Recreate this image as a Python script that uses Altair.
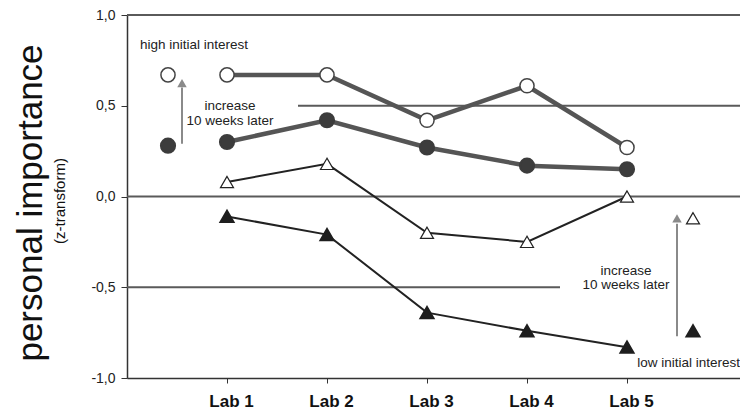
import altair as alt
import pandas as pd

# ---- data ----
labs = [1, 2, 3, 4, 5]
lab_names = ["Lab 1", "Lab 2", "Lab 3", "Lab 4", "Lab 5"]
high_later = [0.67, 0.67, 0.42, 0.61, 0.27]
high_initial = [0.30, 0.42, 0.27, 0.17, 0.15]
low_later = [0.08, 0.18, -0.20, -0.25, 0.00]
low_initial = [-0.11, -0.21, -0.64, -0.74, -0.83]

# legend-like key markers
key_x = [0.41, 0.41, 5.66, 5.66]
key_y = [0.67, 0.28, -0.12, -0.74]
key_series = ["high_later", "high_initial", "low_later", "low_initial"]

# arrows
arrow_x = [0.55, 5.50]
arrow_y0 = [0.29, -0.77]
arrow_y1 = [0.60, -0.15]
arrow_tip = [0.625, -0.12]

# reference lines
ref_y = [1.0, 0.5, 0.0, -0.5]
ref_x0 = [0.0, 1.71, 0.0, 0.0]
ref_x1 = [6.13, 6.13, 6.13, 4.33]

# annotations
ann_text = ["high initial interest", "increase\n10 weeks later",
            "increase\n10 weeks later", "low initial interest"]
ann_x = [0.13, 1.03, 4.99, 6.13]
ann_y = [0.833, 0.497, -0.41, -0.915]
ann_align = ["left", "center", "center", "right"]

FONT = "Liberation Sans"
XDOM = [0, 6.13]
YDOM = [-1.0, 1.0]

rows = []
for name, vals in [("high_later", high_later), ("high_initial", high_initial),
                   ("low_later", low_later), ("low_initial", low_initial)]:
    for x, v in zip(labs, vals):
        rows.append({"series": name, "x": x, "y": v})
df = pd.DataFrame(rows)
keys = pd.DataFrame({"series": key_series, "x": key_x, "y": key_y})
pts = pd.concat([df, keys], ignore_index=True)

xscale = alt.Scale(domain=XDOM, nice=False, zero=False)
yscale = alt.Scale(domain=YDOM, nice=False, zero=False)

xenc = alt.X("x:Q", scale=xscale,
             axis=alt.Axis(values=labs, labelExpr="'Lab ' + datum.value",
                           title=None, grid=False, labelFont=FONT, labelFontSize=17,
                           labelFontWeight="bold", labelColor="#111", labelPadding=10,
                           labelOffset=4, tickSize=5, tickColor="#333",
                           domainColor="#333", domainWidth=1.5))
yenc = alt.Y("y:Q", scale=yscale,
             axis=alt.Axis(values=[-1.0, -0.5, 0.0, 0.5, 1.0],
                           labelExpr="(datum.value < 0 ? '-' : '') + replace(format(abs(datum.value), '.1f'), '.', ',')",
                           title=None, grid=False, labelFont=FONT, labelFontSize=14,
                           labelColor="#222", labelPadding=6, tickSize=6,
                           tickColor="#333", domainColor="#333", domainWidth=1.5))

refs = pd.DataFrame({"y": ref_y, "x0": ref_x0, "x1": ref_x1})
ref_layer = alt.Chart(refs).mark_rule(color="#5a5a5a", strokeWidth=2).encode(
    x=alt.X("x0:Q", scale=xscale), x2="x1:Q", y=alt.Y("y:Q", scale=yscale))

base = alt.Chart(df)
circ_lines = base.transform_filter(
    "datum.series == 'high_later' || datum.series == 'high_initial'"
).mark_line(color="#555555", strokeWidth=4.5).encode(x=xenc, y=yenc, detail="series:N")
tri_lines = base.transform_filter(
    "datum.series == 'low_later' || datum.series == 'low_initial'"
).mark_line(color="#222222", strokeWidth=2).encode(
    x=alt.X("x:Q", scale=xscale), y=alt.Y("y:Q", scale=yscale), detail="series:N")

pbase = alt.Chart(pts)
enc_xy = dict(x=alt.X("x:Q", scale=xscale), y=alt.Y("y:Q", scale=yscale))
open_c = pbase.transform_filter("datum.series == 'high_later'").mark_point(
    shape="circle", filled=True, fill="white", stroke="#444", strokeWidth=1.5,
    size=200, opacity=1).encode(**enc_xy)
fill_c = pbase.transform_filter("datum.series == 'high_initial'").mark_point(
    shape="circle", filled=True, fill="#3c3c3c", stroke="#3c3c3c", size=200,
    opacity=1).encode(**enc_xy)
open_t = pbase.transform_filter("datum.series == 'low_later'").mark_point(
    shape="triangle-up", filled=True, fill="white", stroke="#222", strokeWidth=1.2,
    size=170, opacity=1).encode(**enc_xy)
fill_t = pbase.transform_filter("datum.series == 'low_initial'").mark_point(
    shape="triangle-up", filled=True, fill="#1e1e1e", stroke="#1e1e1e", size=170,
    opacity=1).encode(**enc_xy)

arr = pd.DataFrame({"x": arrow_x, "y0": arrow_y0, "y1": arrow_y1, "tip": arrow_tip})
arrow_shaft = alt.Chart(arr).mark_rule(color="#8a8a8a", strokeWidth=2).encode(
    x=alt.X("x:Q", scale=xscale), y=alt.Y("y0:Q", scale=yscale), y2="y1:Q")
arrow_head = alt.Chart(arr).mark_point(
    shape="triangle-up", filled=True, color="#8a8a8a", size=90, opacity=1).encode(
    x=alt.X("x:Q", scale=xscale), y=alt.Y("tip:Q", scale=yscale))

ann = pd.DataFrame({"t": ann_text, "x": ann_x, "y": ann_y, "a": ann_align})
ann_layers = []
for al in ["left", "center", "right"]:
    ann_layers.append(
        alt.Chart(ann).transform_filter(f"datum.a == '{al}'").mark_text(
            align=al, baseline="middle", font=FONT, fontSize=13.5, lineHeight=14.5,
            lineBreak="\n", color="#222").encode(
            x=alt.X("x:Q", scale=xscale), y=alt.Y("y:Q", scale=yscale), text="t:N"))

titles = pd.DataFrame({"t": ["personal importance", "(z-transform)"],
                       "fs": [35, 15]})
title1 = alt.Chart(titles).transform_filter("datum.fs == 35").mark_text(
    angle=270, align="center", baseline="middle", font=FONT, fontSize=35,
    color="#111").encode(x=alt.value(-96), y=alt.value(188), text="t:N")
title2 = alt.Chart(titles).transform_filter("datum.fs == 15").mark_text(
    angle=270, align="center", baseline="middle", font=FONT, fontSize=15,
    color="#111").encode(x=alt.value(-67), y=alt.value(186), text="t:N")

chart = alt.layer(
    ref_layer, circ_lines, tri_lines, arrow_shaft, arrow_head,
    open_c, fill_c, open_t, fill_t, *ann_layers, title1, title2
).properties(
    width=613, height=363,
    autosize=alt.AutoSizeParams(type="none"),
    padding={"left": 119, "top": 7, "right": 0, "bottom": 33},
).configure_view(stroke=None).configure(background="white")

chart.save("out.html", embed_options={"renderer": "svg", "actions": False})
